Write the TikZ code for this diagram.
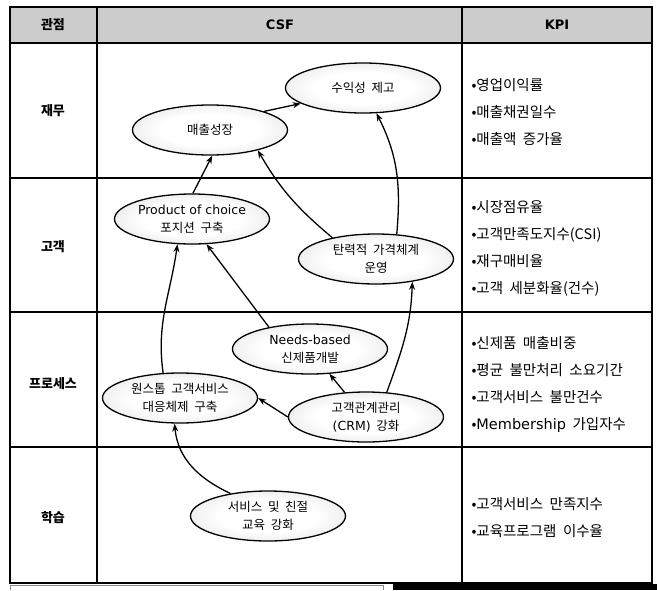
\documentclass[tikz,border=0pt]{standalone}
\usepackage{fontspec}
\setmainfont{Noto Sans CJK KR}[WordSpace=2]
\newfontfamily\latfont{DejaVu Sans}
\usetikzlibrary{shapes.geometric, arrows.meta, positioning}
\pgfdeclareradialshading{csfshade}{\pgfpoint{0bp}{0bp}}{color(0bp)=(white);
  color(16bp)=(white); color(40bp)=(black!16); color(50bp)=(black!28)}

\begin{document}
\begin{tikzpicture}[x=1pt, y=-1pt,
  csf/.style={ellipse, draw, line width=1.3pt, minimum width=155pt,
    minimum height=50pt, inner sep=0pt, align=center, shading=csfshade,
    font=\fontsize{12.5}{18}\selectfont},
  kpi/.style={anchor=west, align=left, font=\fontsize{14.5}{27}\selectfont},
  view/.style={font=\bfseries\fontsize{13}{15}\selectfont},
  arr/.style={-{Stealth[length=8pt,width=6pt]}, line width=1.3pt}]
  \useasboundingbox (0,0) rectangle (657,590);

  % table
  \fill[black!20] (10,7) rectangle (652,43);
  \draw[line width=1.2pt] (10,7) rectangle (652,583);
  \foreach \y in {43,178,312,447}
    \draw[line width=1.2pt] (10,\y) -- (652,\y);
  \foreach \x in {97,462}
    \draw[line width=1.2pt] (\x,7) -- (\x,583);
  \draw[black!45] (10,590) -- (10,585) -- (383,585) -- (383,590);
  \fill (393,584) rectangle (657,590);

  % header and perspectives
  \node[view] (hview) at (53,25) {관점};
  \node[view] (hcsf) at (280,25) {\latfont CSF};
  \node[view] (hkpi) at (557,25) {\latfont KPI};
  \node[view] (fin) at (53,111) {재무};
  \node[view] (cust) at (53,247) {고객};
  \node[view] (proc) at (53,384) {프로세스};
  \node[view] (learn) at (53,518) {학습};

  % CSF
  \node[csf] (profit) at (363,88) {수익성 제고};
  \node[csf] (sales) at (210,130) {매출성장};
  \node[csf] (choice) at (192,219) {{\latfont Product of choice}\\포지션 구축};
  \node[csf] (price) at (376,259) {탄력적 가격체계\\운영};
  \node[csf] (needs) at (310,349) {{\latfont Needs-based}\\신제품개발};
  \node[csf] (onestop) at (180,398) {원스톱 고객서비스\\대응체제 구축};
  \node[csf] (crm) at (366,417) {고객관계관리\\{\latfont(CRM)} 강화};
  \node[csf] (edu) at (268,516) {서비스 및 친절\\교육 강화};

  \draw[arr] (sales.19) -- (profit.194);
  \draw[arr] (choice.88) -- (sales.275);
  \draw[arr] (price.154) to[out=140, in=-60] (sales.337);
  \draw[arr] (price.50) to[out=85, in=-63] (profit.298);
  \draw[arr] (needs.152) -- (choice.300);
  \draw[arr] (onestop.124) to[out=98, in=-98] (choice.240);
  \draw[arr] (crm.131) -- (needs.308);
  \draw[arr] (crm.50) to[out=70, in=-92] (price.328);
  \draw[arr] (crm.west) -- (onestop.east);
  \draw[arr] (edu.149) to[out=155, in=-85] (onestop.258);

  % KPI
  \node[kpi] (kfin) at (468,112) {•영업이익률\\•매출채권일수\\•매출액 증가율};
  \node[kpi] (kcust) at (468,248) {•시장점유율\\•고객만족도지수(CSI)\\•재구매비율\\•고객 세분화율(건수)};
  \node[kpi] (kproc) at (468,384) {•신제품 매출비중\\•평균 불만처리 소요기간\\•고객서비스 불만건수\\•{\latfont Membership} 가입자수};
  \node[kpi] (klearn) at (468,518) {•고객서비스 만족지수\\•교육프로그램 이수율};
\end{tikzpicture}
\end{document}
